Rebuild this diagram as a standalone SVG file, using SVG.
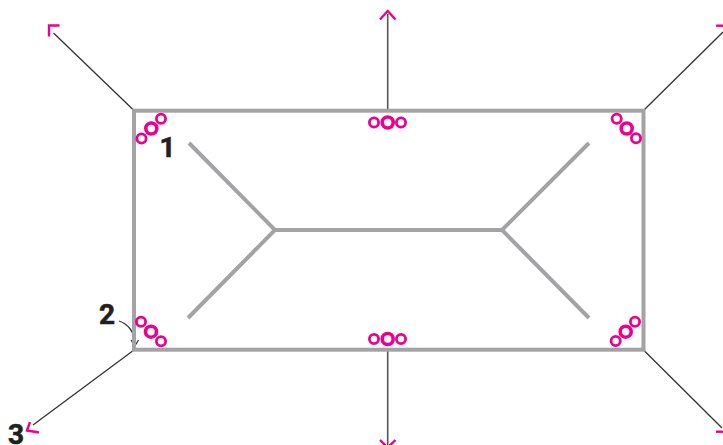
<svg xmlns="http://www.w3.org/2000/svg" width="723" height="445" viewBox="0 0 723 445">
<style>
.g{fill:none;stroke:#a3a3a6;stroke-width:4}
.k{fill:none;stroke:#333;stroke-width:1.3}
.v{fill:none;stroke:#555;stroke-width:1.6}
.a{fill:none;stroke:#ec008c;stroke-width:2.4}
.o{fill:#fff;stroke:#ec008c;stroke-width:2.800}
.b{fill:#fff;stroke:#ec008c;stroke-width:3.600}
text{font-family:Roboto,"Liberation Sans",sans-serif;font-weight:700;font-size:28px;fill:#231f20;stroke:#231f20;stroke-width:.6}
</style>
<g id="connectors">
<path class="k" d="M134 110.500L53.500 33"/>
<path class="k" d="M643.500 110.500L723 32"/>
<path class="k" d="M134 350L33 425"/>
<path class="k" d="M643.500 350L722 428"/>
<path class="v" d="M387.700 110V14"/>
<path class="v" d="M387.700 350V445"/>
<path class="k" d="M119 321C128 324 135 332 135 345"/>
<path class="k" d="M131 340L134.800 346L138.500 340"/>
<path class="a" d="M49 36.500V25.500H59.500"/>
<path class="a" d="M716 25.700H723"/>
<path class="a" d="M716 431.700H723"/>
<path class="a" d="M30 422L27 430.500L39 432.500"/>
<path class="a" d="M380 19.500L387.700 11L395.500 19.500"/>
<path class="a" d="M380 440L387.700 447.500L395.500 440"/>
</g>
<g id="frame"><rect class="g" x="134" y="110.700" width="509.500" height="239"/></g>
<g id="inner"><path class="g" d="M189 143L275 230L188 318M275 230H502M589 143L502 230L589 318"/></g>
<g id="cluster-tl"><circle class="o" cx="141.500" cy="138.500" r="4.600"/><circle class="b" cx="151.300" cy="128.500" r="5.500"/><circle class="o" cx="161" cy="118.700" r="4.600"/></g>
<g id="cluster-tc"><circle class="o" cx="374" cy="122.500" r="4.600"/><circle class="b" cx="387.700" cy="122.500" r="5.500"/><circle class="o" cx="401" cy="122.500" r="4.600"/></g>
<g id="cluster-tr"><circle class="o" cx="616.700" cy="118.700" r="4.600"/><circle class="b" cx="626.700" cy="128.500" r="5.500"/><circle class="o" cx="636" cy="138.300" r="4.600"/></g>
<g id="cluster-bl"><circle class="o" cx="141" cy="321.700" r="4.600"/><circle class="b" cx="151" cy="331.700" r="5.500"/><circle class="o" cx="161" cy="341.300" r="4.600"/></g>
<g id="cluster-bc"><circle class="o" cx="374" cy="339" r="4.600"/><circle class="b" cx="387.700" cy="339" r="5.500"/><circle class="o" cx="401" cy="339" r="4.600"/></g>
<g id="cluster-br"><circle class="o" cx="615.700" cy="341" r="4.600"/><circle class="b" cx="625.700" cy="331.700" r="5.500"/><circle class="o" cx="635" cy="321.700" r="4.600"/></g>
<g id="label-1"><text x="159.500" y="156.500">1</text></g>
<g id="label-2"><text x="99" y="323.500">2</text></g>
<g id="label-3"><text x="8" y="444">3</text></g>
</svg>
